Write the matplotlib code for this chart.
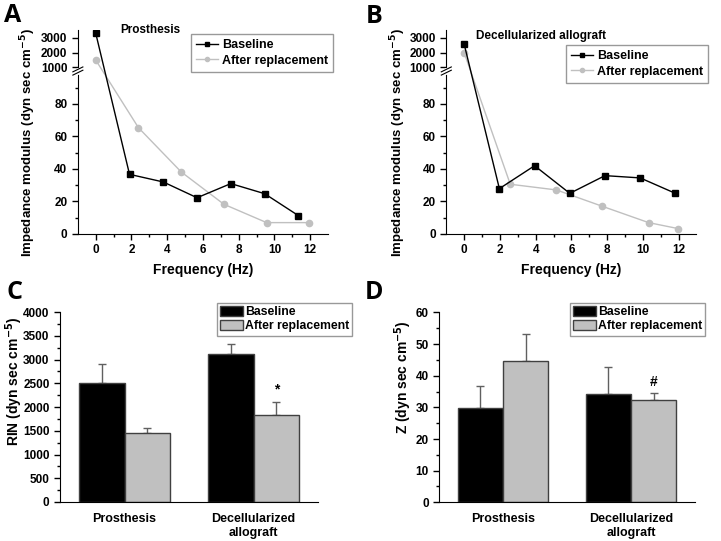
import numpy as np
import matplotlib
matplotlib.use('Agg')
import matplotlib.pyplot as plt
from matplotlib.patches import Patch
from matplotlib.lines import Line2D

plt.rcParams['font.family'] = ['Liberation Sans', 'DejaVu Sans']
plt.rcParams['font.weight'] = 'bold'
plt.rcParams['axes.labelweight'] = 'bold'

# impedance spectra (panels A, B)
freq_a_base = [0, 1.89, 3.78, 5.67, 7.56, 9.45, 11.34]
z_a_base = [3320, 36.7, 32, 22.3, 31, 24.8, 11.3]
freq_a_after = [0, 2.39, 4.78, 7.17, 9.56, 11.95]
z_a_after = [1500, 65.4, 38.2, 18.3, 7, 7]

freq_b_base = [0, 1.97, 3.94, 5.91, 7.88, 9.85, 11.82]
z_b_base = [2580, 27.9, 42, 25, 35.9, 34.5, 25]
freq_b_after = [0, 2.58, 5.16, 7.74, 10.32, 11.98]
z_b_after = [2000, 30.6, 27.1, 17, 7, 3.3]

# bar charts (panels C, D)
groups = ['Prosthesis', 'Decellularized\nallograft']
rin_base = [2500, 3120]
rin_base_err = [400, 210]
rin_after = [1460, 1840]
rin_after_err = [95, 275]
zc_base = [29.7, 34.2]
zc_base_err = [6.9, 8.4]
zc_after = [44.7, 32.4]
zc_after_err = [8.4, 2.0]

GREY = '#c0c0c0'

# broken y axis: 0-100 linear, then compressed above ~790
xp = [-1000, 0, 100, 790, 20000]
fp = [-1000, 0, 100, 100.6, 100.6 + (20000 - 790) * 0.00905]


def fwd(y):
    return np.interp(y, xp, fp)


def inv(y):
    return np.interp(y, fp, xp)


fig = plt.figure(figsize=(7.21, 5.41), dpi=100)


def style(ax):
    ax.spines['top'].set_visible(False)
    ax.spines['right'].set_visible(False)
    ax.tick_params(direction='out', labelsize=8.5, width=1, length=4)
    ax.tick_params(which='minor', direction='out', length=2.5, width=1)


def spectrum(rect, fb, zb, fa, za, title, tpos, lpos, labx):
    ax = fig.add_axes(rect)
    ax.set_yscale('function', functions=(fwd, inv))
    ax.plot(fa, za, '-o', color=GREY, lw=1, ms=4.5, mec=GREY, zorder=2)
    ax.plot(fb, zb, '-s', color='black', lw=1, ms=4, zorder=3)
    ax.set_xlim(-1, 13)
    ax.set_ylim(0, 3540)
    ax.set_xticks([0, 2, 4, 6, 8, 10, 12])
    ax.set_xticks([1, 3, 5, 7, 9, 11], minor=True)
    ax.set_yticks([0, 20, 40, 60, 80, 1000, 2000, 3000])
    ax.set_yticks([10, 30, 50, 70, 90], minor=True)
    style(ax)
    ax.set_xlabel('Frequency (Hz)', fontsize=10, labelpad=5)
    ax.set_ylabel('Impedance modulus (dyn sec cm$^{\\mathbf{-5}}$)', fontsize=9.5)
    ax.yaxis.set_label_coords(labx, 0.45)
    ax.text(tpos[0], tpos[1], title, transform=ax.transAxes, fontsize=8.5,
            ha='center', va='center')
    # break marks on the left spine
    ybf = fwd(400) / fwd(3540)
    ax.plot([0, 0], [ybf - 0.008, ybf + 0.008], transform=ax.transAxes,
            color='white', lw=2, clip_on=False, zorder=5)
    for dy in (-0.008, 0.008):
        ax.plot([-0.02, 0.02], [ybf + dy - 0.012, ybf + dy + 0.012],
                transform=ax.transAxes, color='black', lw=0.8, clip_on=False, zorder=6)
    handles = [Line2D([], [], color='black', marker='s', ms=3, lw=1),
               Line2D([], [], color=GREY, marker='o', ms=3, lw=1)]
    leg = ax.legend(handles, ['Baseline', 'After replacement'], loc='upper right',
                    bbox_to_anchor=lpos, bbox_transform=fig.transFigure,
                    fontsize=9, frameon=True, fancybox=False, handlelength=1.8,
                    handletextpad=0.3, borderpad=0.4, labelspacing=0.3,
                    borderaxespad=0)
    leg.get_frame().set_edgecolor('#808080')
    leg.get_frame().set_linewidth(1)
    return ax


def bars(rect, base, berr, after, aerr, ylim, major, minor, ylabel, mark, lpos, labxy):
    ax = fig.add_axes(rect)
    x = np.arange(len(groups))
    w = 0.354
    ax.bar(x - w / 2, base, w, color='black', edgecolor='#404040', lw=1, zorder=2)
    ax.bar(x + w / 2, after, w, color=GREY, edgecolor='#404040', lw=1, zorder=2)
    ax.errorbar(x - w / 2, base, yerr=[np.zeros(2), berr], fmt='none',
                ecolor='#606060', elinewidth=1, capsize=3, capthick=1, zorder=1)
    ax.errorbar(x + w / 2, after, yerr=[np.zeros(2), aerr], fmt='none',
                ecolor='#606060', elinewidth=1, capsize=3, capthick=1, zorder=1)
    ax.text(x[1] + w / 2, after[1] + aerr[1] + (ylim * 0.025), mark,
            ha='center', va='bottom', fontsize=10)
    ax.set_xlim(-0.5, 1.5)
    ax.set_ylim(0, ylim)
    ax.set_xticks(x)
    ax.set_xticklabels(groups)
    ax.set_yticks(major)
    ax.set_yticks(minor, minor=True)
    style(ax)
    ax.tick_params(axis='x', length=0, pad=8, labelsize=9)
    ax.set_ylabel(ylabel, fontsize=10)
    ax.yaxis.set_label_coords(*labxy)
    handles = [Patch(facecolor='black', edgecolor='#404040'),
               Patch(facecolor=GREY, edgecolor='#404040')]
    leg = ax.legend(handles, ['Baseline', 'After replacement'], loc='upper right',
                    bbox_to_anchor=lpos, bbox_transform=fig.transFigure,
                    fontsize=8.8, frameon=True, fancybox=False, handlelength=1.9,
                    handleheight=0.9, handletextpad=0.15, borderpad=0.25,
                    labelspacing=0.15, borderaxespad=0)
    leg.get_frame().set_edgecolor('#808080')
    leg.get_frame().set_linewidth(1)
    return ax


spectrum([0.108, 0.5675, 0.347, 0.377], freq_a_base, z_a_base, freq_a_after, z_a_after,
         'Prosthesis', (0.29, 1.0), (333 / 721, 1 - 34 / 541), -0.161)
spectrum([0.619, 0.5675, 0.347, 0.377], freq_b_base, z_b_base, freq_b_after, z_b_after,
         'Decellularized allograft', (0.38, 0.97), (708 / 721, 1 - 45 / 541), -0.155)

bars([0.0832, 0.0721, 0.358, 0.351], rin_base, rin_base_err, rin_after, rin_after_err,
     4000, np.arange(0, 4001, 500), np.arange(250, 4000, 500),
     'RIN (dyn sec cm$^{\\mathbf{-5}}$)', '*', (352 / 721, 1 - 303 / 541), (-0.134, 0.637))
bars([0.609, 0.0715, 0.355, 0.351], zc_base, zc_base_err, zc_after, zc_after_err,
     60, np.arange(0, 61, 10), np.arange(5, 60, 10),
     'Z (dyn sec cm$^{\\mathbf{-5}}$)', '#', (705 / 721, 1 - 303 / 541), (-0.097, 0.66))

for lab, xx, yy in [('A', 4, 3), ('B', 366, 4), ('C', 7, 280), ('D', 365, 280)]:
    fig.text(xx / 721, 1 - yy / 541, lab, fontsize=18, fontweight='bold',
             family=['Open Sans', 'DejaVu Sans'], ha='left', va='top')

fig.savefig('out.png', dpi=100)
